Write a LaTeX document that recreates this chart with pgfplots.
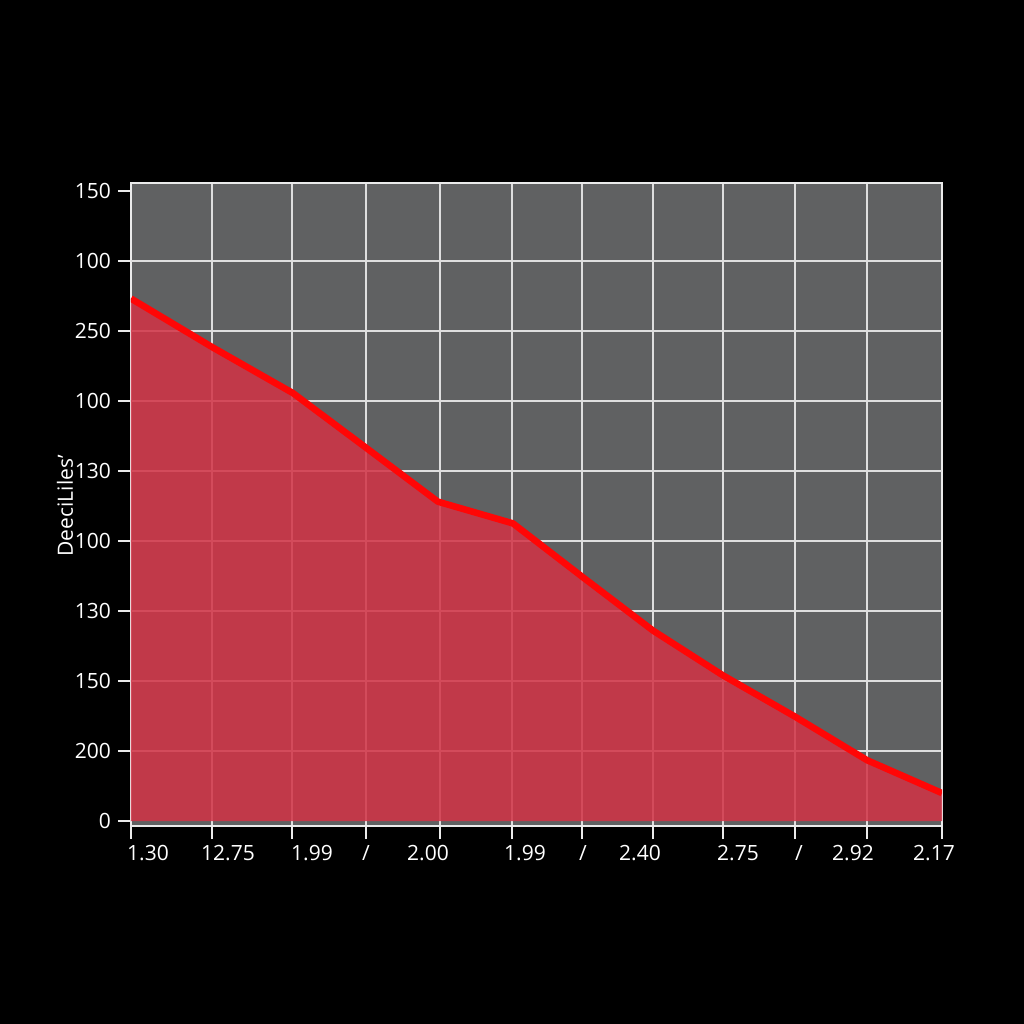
\documentclass[border=0pt]{standalone}
\usepackage{pgfplots}
\pgfplotsset{compat=1.18}
\usepackage{fontspec}
\setmainfont{Open Sans}
\definecolor{plotgray}{RGB}{96,97,98}
\definecolor{gridc}{RGB}{222,222,222}
\definecolor{fillred}{RGB}{210,51,70}
\definecolor{linered}{RGB}{255,6,6}
\definecolor{framec}{RGB}{235,235,235}
\begin{document}
\begin{tikzpicture}
\fill[black] (0,0) rectangle (512pt,512pt);
\useasboundingbox (0,0) rectangle (512pt,512pt);
\begin{axis}[
  at={(65.5pt,99pt)}, anchor=south west,
  scale only axis, width=405.5pt, height=321.5pt,
  xmin=0, xmax=811, ymin=-0.07, ymax=9.11,
  axis background/.style={fill=plotgray},
  axis line style={framec, line width=1.2pt},
  tick style={framec, line width=0.9pt},
  tick align=outside, major tick length=6.5pt,
  xtick pos=bottom, ytick pos=left,
  xtick={0,81,161,235,309,381,451,522,592,664,736,811},
  xticklabels={},
  xmajorgrids=true,
  grid style={gridc, line width=0.8pt},
  extra x ticks={17,97,181,235,297,394,452,509,607,668,722,803},
  extra x tick labels={1.30,12.75,1.99,/,2.00,1.99,/,2.40,2.75,/,2.92,2.17},
  extra x tick style={grid=none, major tick length=0pt, xticklabel style={yshift=-6pt}},
  ytick={0,1,2,3,4,5,6,7,8,9},
  yticklabels={0,200,150,130,100,130,100,250,100,150},
  extra y ticks={1,2,3,4,5,6,7,8},
  extra y tick labels={},
  extra y tick style={grid=major, major tick length=0pt},
  ymajorgrids=false,
  ticklabel style={font=\fontsize{10.5}{12}\selectfont, text=white},
  ylabel={DeeciLiles'},
  ylabel style={at={(rel axis cs:-0.0814,0.498)}, anchor=center, font=\fontsize{10.5}{12}\selectfont, text=white},
  clip=true,
]
\addplot[fill=fillred, fill opacity=0.86, draw=none] coordinates {
 (0,7.46) (82,6.76) (162,6.11) (236,5.32) (307,4.56) (382,4.25)
 (452,3.48) (522,2.72) (592,2.08) (663,1.50) (736,0.87) (811,0.40)
} \closedcycle;
\addplot[linered, line width=3.3pt, line join=round] coordinates {
 (0,7.46) (82,6.76) (162,6.11) (236,5.32) (307,4.56) (382,4.25)
 (452,3.48) (522,2.72) (592,2.08) (663,1.50) (736,0.87) (811,0.40)
};
\end{axis}
\end{tikzpicture}
\end{document}
